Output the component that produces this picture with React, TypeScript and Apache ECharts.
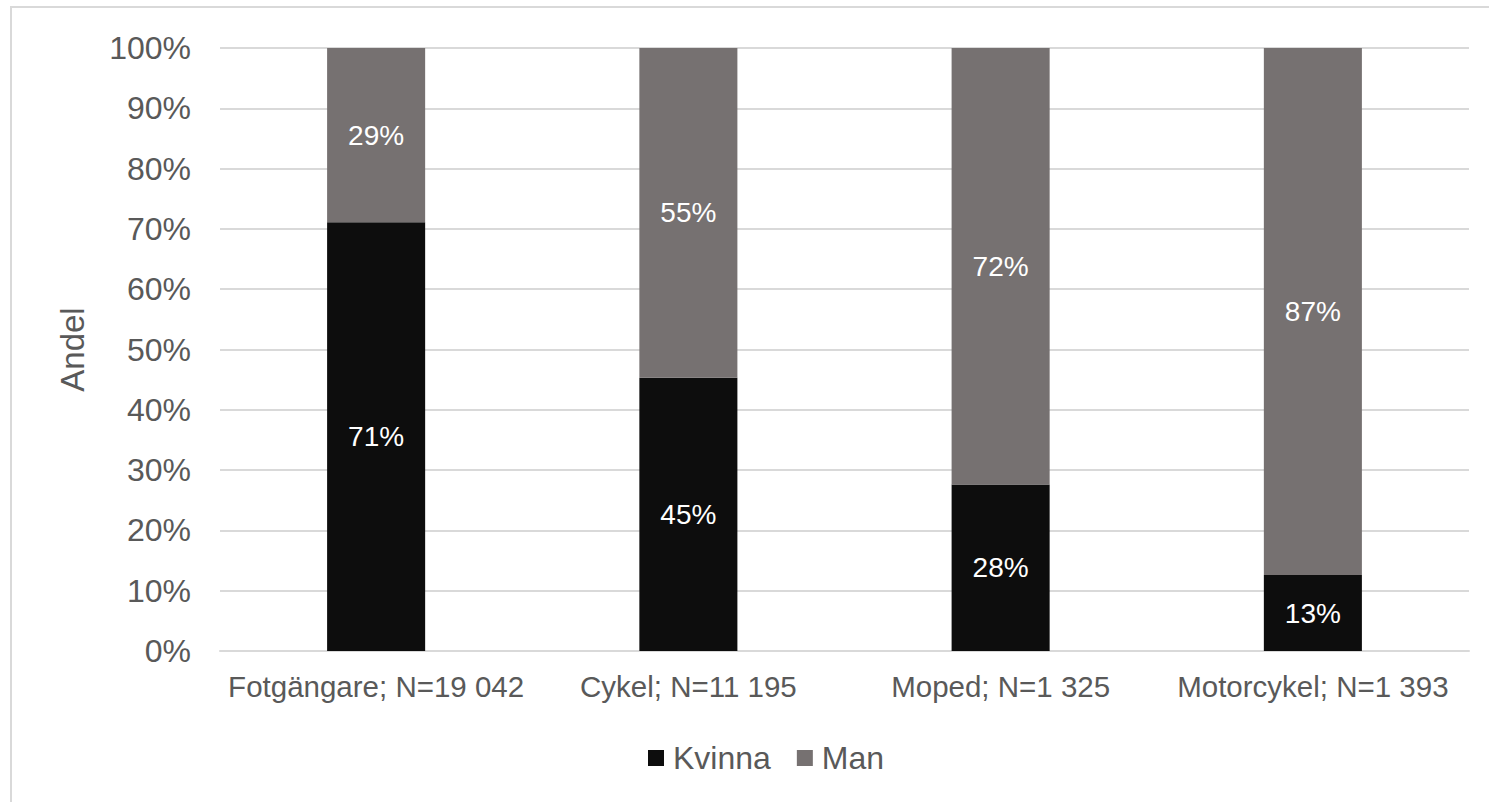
import React, { useEffect, useRef } from "react";
import * as echarts from "echarts";

const categories = ["Fotgängare; N=19 042", "Cykel; N=11 195", "Moped; N=1 325", "Motorcykel; N=1 393"];
const kvinna = [71.1, 45.3, 27.6, 12.6];
const man = [28.9, 54.7, 72.4, 87.4];
const seriesNames = ["Kvinna", "Man"];
const FONT = "'Liberation Sans', Arial, sans-serif";

export default function App() {
  const ref = useRef<HTMLDivElement>(null);
  useEffect(() => {
    const chart = echarts.init(ref.current!, null, { renderer: "svg" });
    const label = {
      show: true,
      position: "inside",
      color: "#ffffff",
      fontSize: 28,
      fontFamily: FONT,
      formatter: (p: any) => Math.round(p.value) + "%",
    };
    chart.setOption({
      animation: false,
      backgroundColor: "#ffffff",
      textStyle: { fontFamily: FONT },
      graphic: [
        {
          type: "rect",
          shape: { x: 11, y: 7, width: 1500, height: 820 },
          style: { fill: "none", stroke: "#d9d9d9", lineWidth: 2 },
          silent: true,
          z: -1,
        },
      ],
      grid: { left: 220, right: 20, top: 48, bottom: 151, containLabel: false },
      legend: {
        data: seriesNames,
        top: 737,
        left: 643,
        itemWidth: 16,
        itemHeight: 16,
        itemGap: 26,
        icon: "rect",
        textStyle: { fontSize: 32, color: "#595959", fontFamily: FONT, padding: [0, 0, 0, 4] },
      },
      xAxis: {
        type: "category",
        data: categories,
        axisLine: { show: true, lineStyle: { color: "#d9d9d9", width: 2 } },
        axisTick: { show: false },
        axisLabel: { color: "#595959", fontSize: 29.5, fontFamily: FONT, margin: 20, interval: 0, hideOverlap: false },
      },
      yAxis: {
        type: "value",
        min: 0,
        max: 100,
        interval: 10,
        name: "Andel",
        nameLocation: "middle",
        nameGap: 131,
        nameRotate: 90,
        nameTextStyle: { color: "#595959", fontSize: 33, fontFamily: FONT },
        axisLabel: { color: "#595959", fontSize: 32, fontFamily: FONT, margin: 29, formatter: "{value}%" },
        splitLine: { lineStyle: { color: "#d9d9d9", width: 2 } },
        axisLine: { show: false },
        axisTick: { show: false },
      },
      series: [
        {
          name: seriesNames[0],
          type: "bar",
          stack: "total",
          data: kvinna,
          barWidth: "31.4%",
          itemStyle: { color: "#0d0d0d" },
          label,
        },
        {
          name: seriesNames[1],
          type: "bar",
          stack: "total",
          data: man,
          barWidth: "31.4%",
          itemStyle: { color: "#767171" },
          label,
        },
      ],
    });
    return () => chart.dispose();
  }, []);
  return <div ref={ref} style={{ position: "fixed", left: 0, top: 0, width: 1489, height: 802 }} />;
}
